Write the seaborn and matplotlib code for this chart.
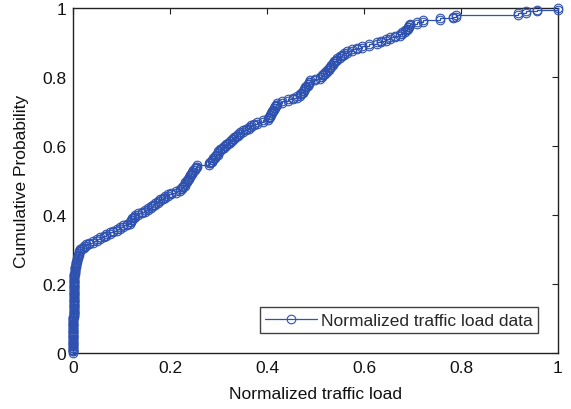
import numpy as np
import pandas as pd
import matplotlib
matplotlib.use("Agg")
import matplotlib.pyplot as plt
from matplotlib.ticker import FuncFormatter
import seaborn as sns

# Sorted normalized traffic load samples (200 observations)
traffic_load = [
    0.0000, 0.0001, 0.0001, 0.0002, 0.0002, 0.0003, 0.0003, 0.0004, 0.0004, 0.0005,
    0.0005, 0.0006, 0.0006, 0.0007, 0.0007, 0.0008, 0.0008, 0.0009, 0.0009, 0.0010,
    0.0010, 0.0011, 0.0011, 0.0012, 0.0012, 0.0013, 0.0013, 0.0014, 0.0014, 0.0015,
    0.0015, 0.0016, 0.0017, 0.0018, 0.0019, 0.0020, 0.0021, 0.0022, 0.0023, 0.0024,
    0.0025, 0.0026, 0.0027, 0.0028, 0.0029, 0.0030,
    0.0033, 0.0038, 0.0042, 0.0048, 0.0054, 0.0061, 0.0069, 0.0078,
    0.0088, 0.0097, 0.0106, 0.0116, 0.0127, 0.0140,
    0.018, 0.022, 0.027,
    0.034, 0.041, 0.049,
    0.056, 0.063, 0.069,
    0.076, 0.083, 0.090,
    0.097, 0.104, 0.111, 0.117,
    0.120, 0.122, 0.125, 0.128,
    0.135, 0.142, 0.149, 0.155,
    0.160, 0.165, 0.170, 0.175,
    0.180, 0.185, 0.190, 0.195,
    0.203, 0.212, 0.221,
    0.224, 0.227, 0.230, 0.232, 0.235,
    0.237, 0.239, 0.241, 0.244, 0.246, 0.248, 0.251, 0.253, 0.255,
    0.280, 0.283, 0.286, 0.289, 0.292, 0.295, 0.298, 0.300, 0.303,
    0.307, 0.311, 0.316, 0.320, 0.324, 0.328, 0.332, 0.336, 0.340, 0.344,
    0.350, 0.356, 0.362, 0.368, 0.374, 0.379,
    0.392, 0.403,
    0.405, 0.407, 0.409, 0.411, 0.413, 0.415, 0.417, 0.419, 0.421,
    0.432, 0.443, 0.454,
    0.461, 0.468,
    0.471, 0.474, 0.476, 0.479, 0.481, 0.484, 0.486, 0.489,
    0.499, 0.509,
    0.513, 0.516, 0.520, 0.523, 0.527, 0.530,
    0.533, 0.536, 0.539, 0.542, 0.545,
    0.550, 0.555, 0.559,
    0.566, 0.575,
    0.585, 0.595,
    0.610, 0.626,
    0.636, 0.645, 0.654,
    0.664, 0.674,
    0.679, 0.684, 0.688,
    0.691, 0.693, 0.695,
    0.709, 0.722, 0.757, 0.784, 0.790,
    0.918, 0.935, 0.956, 1.000,
]

x_ticks = [0, 0.2, 0.4, 0.6, 0.8, 1]
y_ticks = [0, 0.2, 0.4, 0.6, 0.8, 1]
x_label = "Normalized traffic load"
y_label = "Cumulative Probability"
series_name = "Normalized traffic load data"

# Empirical CDF as a staircase: every sample adds a vertical jump of 1/n
samples = np.sort(np.asarray(traffic_load))
n = len(samples)
prob = np.arange(n + 1) / n
stair_x = np.repeat(samples, 2)
stair_y = np.empty(2 * n)
stair_y[0::2] = prob[:-1]
stair_y[1::2] = prob[1:]
cdf = pd.DataFrame({"load": stair_x, "prob": stair_y, "series": series_name})

sns.set_style("white")
plt.rcParams["font.family"] = ["Liberation Sans", "DejaVu Sans"]

line_color = "#2f52b0"
font_size = 12.5

fig = plt.figure(figsize=(5.71, 4.10), dpi=100)
ax = fig.add_axes([0.1278, 0.1366, 0.8494, 0.8415])

sns.lineplot(
    data=cdf, x="load", y="prob", hue="series", palette=[line_color],
    sort=False, estimator=None, ax=ax,
    linewidth=0.9, marker="o", markersize=6.2,
    markerfacecolor="none", markeredgecolor=line_color, markeredgewidth=0.8,
    clip_on=False, zorder=3,
)

ax.set_xlim(0, 1)
ax.set_ylim(0, 1)
ax.set_xticks(x_ticks)
ax.set_yticks(y_ticks)
fmt = FuncFormatter(lambda v, _: f"{v:g}")
ax.xaxis.set_major_formatter(fmt)
ax.yaxis.set_major_formatter(fmt)
ax.tick_params(direction="in", length=4, width=0.8, colors="#222222",
               labelsize=font_size, top=True, right=True, pad=5)
for lbl in ax.get_xticklabels() + ax.get_yticklabels():
    lbl.set_color("#111111")

for side in ("left", "right", "top", "bottom"):
    ax.spines[side].set_visible(True)
    ax.spines[side].set_color("#222222")
    ax.spines[side].set_linewidth(1.0)

ax.set_xlabel(x_label, fontsize=font_size, color="#111111", labelpad=8)
ax.set_ylabel(y_label, fontsize=font_size, color="#111111", labelpad=9)

leg = ax.legend(
    loc="lower right", bbox_to_anchor=(0.959, 0.058), borderaxespad=0,
    fontsize=font_size, frameon=True, fancybox=False, handlelength=3.0,
    handletextpad=0.25, borderpad=0.3,
)
leg.get_frame().set_edgecolor("#111111")
leg.get_frame().set_linewidth(1.0)

fig.savefig("out.png", dpi=100)
